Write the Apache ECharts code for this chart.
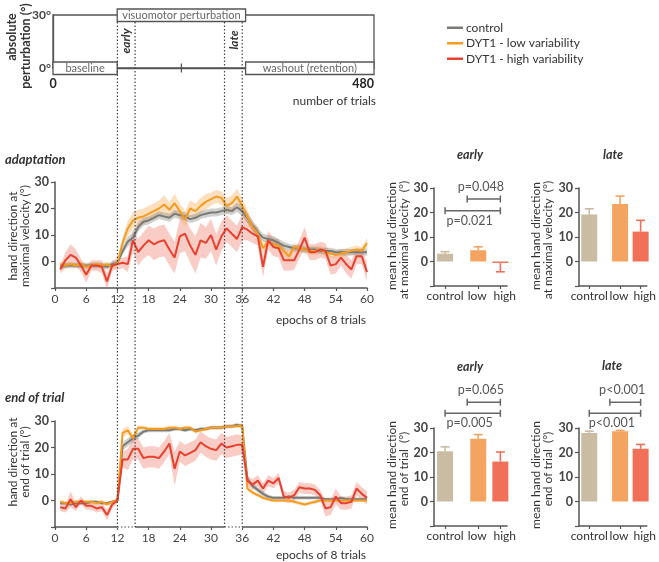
<!DOCTYPE html>
<html>
<head>
<meta charset="utf-8">
<script src="https://cdn.jsdelivr.net/npm/echarts@6/dist/echarts.min.js"></script>
<style>
  html, body { margin: 0; background: #fff; }
  #chart { width: 659px; height: 562px; }
</style>
</head>
<body>
<div id="chart"></div>
<script>
// epochs of 8 trials
const epochs = [1,2,3,4,5,6,7,8,9,10,11,12,13,14,15,16,17,18,19,20,21,22,23,24,25,26,27,28,29,30,
  31,32,33,34,35,36,37,38,39,40,41,42,43,44,45,46,47,48,49,50,51,52,53,54,55,56,57,58,59,60];

// hand direction at maximal velocity (mean, sem)
const ctrlV = [-2,-1.5,-1.5,-1.5,-1.5,-1.5,-1.5,-1.5,-1.5,-2,-1,-0.5,4,7.5,9,13,15,15.5,16.5,17.5,17,16.5,18,17.5,17,16,16.5,17.5,18,18.5,
  18.5,19,19.5,19,20.5,19,16.5,13.5,11,9,8.5,8,7,6,5.5,5,5,4.5,4.5,4.5,4,4,4,3.5,3.5,3.5,3.5,3.5,3.5,3.5];
const ctrlVse = [1,1,1,1,1,1,1,1,1,1,1,1,1.5,1.8,2,1.8,1.5,1.5,1.5,1.5,1.5,1.5,1.5,1.5,1.5,1.5,1.5,1.5,1.5,1.5,
  1.5,1.5,1.5,1.5,1.8,2,2,2,1.8,1.5,1.5,1.5,1.5,1.5,1.2,1.2,1.2,1.2,1.2,1.2,1.2,1.2,1.2,1.2,1.2,1.2,1.2,1.2,1.2,1.2];
const lowV = [-1,-1.5,-1,-1.5,-1,-2,-1.5,-1,-1.5,-1,-2,-0.5,7,12.5,15.5,16.5,17,18,19,20,21.5,19.5,22,19,16,20,19,21,22.5,23.5,
  24.5,24,21,22,24.5,21,17,13,10.5,5,7.5,6.5,6,4,2,5.5,5,4.5,4,4,4.5,3.5,3,2.5,3,3.5,4,4.5,4,7];
const lowVse = [1,1,1,1,1,1,1,1,1,1,1,1,2,3,3,3,3,3,3,3,3.5,3,3.5,3,3,3,3,3,3,2.5,
  2.5,2.5,3,3,3,3,2.5,2,2,2,1.5,1.5,1.5,1.5,1.5,1.5,1.5,1.5,1.5,1.5,1.5,1.5,1.5,1.5,1.5,1.5,1.5,1.5,1.5,2];
const highV = [-3,0.5,2.5,1.5,-1.5,-5,-1.5,-1.5,-2,-7.5,-1.5,-1,-0.5,-1,8,3.5,6,8,6.5,7.5,8,4.5,1.5,9.5,10.5,6,2.5,8,7,10,
  4.5,9.5,12.5,10.5,8.5,13,12,10.5,9.5,-2,8,5.5,5,0.5,0.5,0.5,4.5,9,3.5,3.5,4.5,4,-1.5,-1,1.5,-1,-3,2,2,-4];
const highVse = [1.5,3,4,3,2.5,3,2,2,2.5,3,2,2,2,3,4.5,5,5,5.5,6,6,6,6,6,6.5,6.5,6.5,7,6.5,6,6,
  6,5.5,5,5,5,5,4,3.5,3.5,4,3.5,3.5,3.5,4,4,3.5,3.5,4,3,3,3,3,3.5,3.5,3,3.5,3.5,3,3,3.5];

// hand direction at end of trial (mean, sem)
const ctrlE = [-1,-1,-1.5,-1,-1,-1,-0.5,-0.5,-1,-1,-0.5,0,20.5,22,23.5,24.5,26,26.5,26.5,26.5,26.5,26.5,27,27,26.5,27,26.5,27,27,27.5,
  27.5,27.5,28,28,28.5,28,8,5.5,4,2.5,1.5,1,1,1,1.5,1,1,1,1,1,1,0.5,0.5,0.5,1,0.5,0.5,0.5,0.5,0.5];
const ctrlEse = [0.5,0.5,0.5,0.5,0.5,0.5,0.5,0.5,0.5,0.5,0.5,0.5,1.5,1.5,1.5,1.2,0.8,0.7,0.7,0.7,0.7,0.7,0.7,0.7,0.7,0.7,0.7,0.7,0.7,0.7,
  0.7,0.7,0.7,0.7,0.7,0.7,1.2,1,1,1,0.7,0.6,0.6,0.6,0.6,0.6,0.6,0.6,0.6,0.6,0.6,0.6,0.6,0.6,0.6,0.6,0.6,0.6,0.6,0.6];
const lowE = [-0.5,-1,-1,-0.5,-0.5,-0.5,-0.5,-1,-0.5,-1.5,-0.5,0,25.5,26.5,23.5,27.5,27.5,27,27,27,27,27.5,27.5,27,27.5,27.5,26,26.5,27,27.5,
  27.5,27.5,28,28,28,28.5,4.5,3,2,1,0.5,0,0,0,0,-0.5,-1,-1.5,-1,-0.5,0,0,0,0,0,0,0,0,0,0];
const lowEse = [0.7,0.7,0.7,0.7,0.7,0.7,0.7,0.7,0.7,0.7,0.7,0.5,1.5,1.5,1.5,0.8,0.7,0.7,0.7,0.7,0.7,0.7,0.7,0.7,0.7,0.7,0.7,0.7,0.7,0.7,
  0.7,0.7,0.7,0.7,0.7,0.7,1,0.7,0.7,0.7,0.7,0.7,0.7,0.7,0.7,0.7,0.7,0.7,0.7,0.7,0.7,0.7,0.7,0.7,0.7,0.7,0.7,0.7,0.7,0.7];
const highE = [-2.5,-3,0.5,-2.5,0,-2,-2,-3,-2.5,-5.5,-1.5,0,15.5,15.5,19.5,19.5,16,16.5,16.5,16,18.5,21.5,12,18.5,17,18,19,22,20.5,19.5,
  19,21.5,20,20.5,21,21,7.5,6,7.5,4.5,7.5,6.5,8.5,1.5,1,2,5,4.5,4.5,4,2,-3,-2.5,1.5,-1,-1,-0.5,4.5,2.5,1];
const highEse = [1.5,1.5,3,1.5,1.5,1.5,1.5,1.5,1.5,2,1.5,1,3,4,4,4,4,4,4,4,4,4,6.5,4,4,4,4,4,4,4,
  4,4,4,4,4,3.5,2,2,2,2,2,2,2,2,2,2,2,2,2,2,2,3,3,3,2.5,2.5,2.5,2.5,2.5,2.5];

// bar charts
const barGroups = ['control', 'low', 'high'];
const barPos = [0, 1.5, 2.5];
const barLabelPos = [0, 1.45, 2.7];
const adaptEarly = [3.2, 4.6, -0.6];
const adaptEarlySe = [0.8, 1.4, 3.6];
const adaptLate = [19.2, 23.5, 12.2];
const adaptLateSe = [2.3, 3.2, 4.6];
const endEarly = [20.5, 25.6, 16.3];
const endEarlySe = [1.8, 1.7, 3.9];
const endLate = [28.0, 28.7, 21.5];
const endLateSe = [0.7, 0.3, 1.8];

// significance brackets: from, to, height, text
const adaptEarlyBr = [[1, 2.5, 25.5, 'p=0.048'], [0, 2.5, 20.7, 'p=0.021']];
const endEarlyBr = [[1, 2.5, 40.5, 'p=0.065'], [0, 2.5, 36, 'p=0.005']];
const endLateBr = [[1, 2.5, 40.5, 'p<0.001'], [0, 2.5, 36, 'p<0.001']];

// protocol: label, first trial, last trial, perturbation
const phases = [['baseline', 0, 96, 0], ['visuomotor perturbation', 96, 288, 30], ['washout (retention)', 288, 480, 0]];
const trialMarks = [192];
const windows = [[12, 15.4], [32.6, 36]]; // early / late, in epochs

const F = 'Lato, "Noto Sans", sans-serif';
const AX = '#555';
const lineColors = ['#7a7a76', '#f39c1f', '#e8402e'];
const bandColors = ['rgba(120,120,116,0.35)', 'rgba(248,176,96,0.4)', 'rgba(240,130,110,0.4)'];
const barColors = ['#c9bca3', '#f4a460', '#f07157'];
const names = ['control', 'DYT1 - low variability', 'DYT1 - high variability'];

const chart = echarts.init(document.getElementById('chart'));

function lineX(gi) {
  return {
    type: 'value', gridIndex: gi, min: 0, max: 60, interval: 6,
    axisLine: { onZero: false, lineStyle: { color: AX, width: 1.5 } },
    axisTick: { length: 3, lineStyle: { color: AX, width: 1.2 } },
    axisLabel: { margin: 5, fontSize: 12, fontFamily: F, color: '#444' },
    splitLine: { show: false }
  };
}
function barX(gi) {
  return {
    type: 'value', gridIndex: gi, min: -0.5, max: 2.8,
    axisLine: { onZero: false, lineStyle: { color: AX, width: 1.5 } },
    axisTick: { customValues: barPos, length: 3, lineStyle: { color: AX, width: 1.2 } },
    axisLabel: { customValues: barLabelPos, margin: 4, fontSize: 12, fontFamily: F, color: '#333',
      formatter: v => barGroups[barLabelPos.indexOf(v)] || '' },
    splitLine: { show: false }
  };
}
function valY(gi) {
  return {
    type: 'value', gridIndex: gi, min: -10, max: 30, interval: 10,
    axisLine: { show: true, onZero: false, lineStyle: { color: AX, width: 1.5 } },
    axisTick: { show: true, length: 4, lineStyle: { color: AX, width: 1.2 } },
    axisLabel: { margin: 6, fontSize: 12.5, fontWeight: 'bold', fontFamily: F, color: '#444',
      formatter: v => (v < 0 ? '' : String(v)) },
    splitLine: { show: false }
  };
}

function band(ai, mean, se, color) {
  return {
    type: 'custom', xAxisIndex: ai, yAxisIndex: ai, silent: true, clip: true,
    data: [[0, 0]],
    renderItem: (params, api) => {
      const up = epochs.map((e, i) => api.coord([e, mean[i] + se[i]]));
      const lo = epochs.map((e, i) => api.coord([e, mean[i] - se[i]])).reverse();
      return { type: 'polygon', shape: { points: up.concat(lo) }, style: { fill: color } };
    }
  };
}
function meanLine(ai, k, mean) {
  return {
    type: 'line', name: names[k], xAxisIndex: ai, yAxisIndex: ai, color: lineColors[k],
    data: epochs.map((e, i) => [e, mean[i]]), symbol: 'none', silent: true,
    lineStyle: { color: lineColors[k], width: 2 }
  };
}
function bars(ai, vals) {
  return {
    type: 'bar', xAxisIndex: ai, yAxisIndex: ai, barWidth: 16, silent: true,
    data: barPos.map((p, i) => ({ value: [p, vals[i]], itemStyle: { color: barColors[i] } }))
  };
}
function errs(ai, vals, se) {
  return {
    type: 'custom', xAxisIndex: ai, yAxisIndex: ai, clip: false, silent: true,
    data: barPos.map((p, i) => [p, vals[i], se[i]]),
    renderItem: (params, api) => {
      const x = api.value(0), v = api.value(1), s = api.value(2);
      const a = api.coord([x, v]);
      const b = api.coord([x, v >= 0 ? v + s : v - s]);
      const st = { stroke: barColors[params.dataIndex], lineWidth: 1.6 };
      return { type: 'group', children: [
        { type: 'line', shape: { x1: a[0], y1: a[1], x2: b[0], y2: b[1] }, style: st },
        { type: 'line', shape: { x1: b[0] - 4.5, y1: b[1], x2: b[0] + 4.5, y2: b[1] }, style: st }
      ] };
    }
  };
}
function brackets(ai, list) {
  return {
    type: 'custom', xAxisIndex: ai, yAxisIndex: ai, clip: false, silent: true,
    data: list.map(b => [b[0], b[2], b[1]]),
    renderItem: (params, api) => {
      const b = list[params.dataIndex];
      const p1 = api.coord([b[0], b[2]]), p2 = api.coord([b[1], b[2]]);
      const below = b[0] === 0;
      const st = { stroke: '#666', lineWidth: 1.5 };
      return { type: 'group', children: [
        { type: 'line', shape: { x1: p1[0], y1: p1[1], x2: p2[0], y2: p2[1] }, style: st },
        { type: 'line', shape: { x1: p1[0], y1: p1[1] - 3.5, x2: p1[0], y2: p1[1] + 3.5 }, style: st },
        { type: 'line', shape: { x1: p2[0], y1: p2[1] - 3.5, x2: p2[0], y2: p2[1] + 3.5 }, style: st },
        { type: 'text', x: (p1[0] + p2[0]) / 2 - 3, y: p1[1] + (below ? 10 : -12),
          style: { text: b[3], fill: '#555', font: '12.5px ' + F,
            align: 'center', verticalAlign: 'middle', textAlign: 'center', textVerticalAlign: 'middle' } }
      ] };
    }
  };
}

const series = [
  // protocol boxes
  {
    type: 'custom', xAxisIndex: 0, yAxisIndex: 0, clip: false, silent: true, z: 5,
    data: phases.map(p => [p[1], p[3], p[2]]),
    renderItem: (params, api) => {
      const p = phases[params.dataIndex];
      const a = api.coord([p[1], p[3]]), b = api.coord([p[2], p[3]]);
      return { type: 'group', children: [
        { type: 'rect', shape: { x: a[0], y: a[1] - 6, width: b[0] - a[0], height: 12.5 },
          style: { fill: '#fff', stroke: AX, lineWidth: 1.3 } },
        { type: 'text', x: (a[0] + b[0]) / 2, y: a[1] + 0.5,
          style: { text: p[0], fill: '#666', font: '11px ' + F,
            align: 'center', verticalAlign: 'middle', textAlign: 'center', textVerticalAlign: 'middle' } }
      ] };
    }
  },
  {
    type: 'custom', xAxisIndex: 0, yAxisIndex: 0, clip: false, silent: true, z: 5,
    data: trialMarks.map(t => [t, 0]),
    renderItem: (params, api) => {
      const a = api.coord([api.value(0), 0]);
      return { type: 'line', shape: { x1: a[0], y1: a[1] - 4.5, x2: a[0], y2: a[1] + 4.5 },
        style: { stroke: AX, lineWidth: 1.3 } };
    }
  },
  band(1, highV, highVse, bandColors[2]), band(1, lowV, lowVse, bandColors[1]), band(1, ctrlV, ctrlVse, bandColors[0]),
  meanLine(1, 0, ctrlV), meanLine(1, 1, lowV), meanLine(1, 2, highV),
  band(2, highE, highEse, bandColors[2]), band(2, lowE, lowEse, bandColors[1]), band(2, ctrlE, ctrlEse, bandColors[0]),
  meanLine(2, 0, ctrlE), meanLine(2, 1, lowE), meanLine(2, 2, highE),
  bars(3, adaptEarly), errs(3, adaptEarly, adaptEarlySe), brackets(3, adaptEarlyBr),
  bars(4, adaptLate), errs(4, adaptLate, adaptLateSe),
  bars(5, endEarly), errs(5, endEarly, endEarlySe), brackets(5, endEarlyBr),
  bars(6, endLate), errs(6, endLate, endLateSe), brackets(6, endLateBr)
];

function txt(x, y, text, font, opt) {
  return Object.assign({
    type: 'text', x, y, z: 100, silent: true,
    style: { text, font: font + ' ' + F, fill: '#333', align: 'center', verticalAlign: 'middle',
      textAlign: 'center', textVerticalAlign: 'middle' }
  }, opt || {});
}
function vtxt(x, y, text, font) {
  return txt(x, y, text, font, { rotation: Math.PI / 2 });
}
function rtxt(x, y, text, font) {
  const t = txt(x, y, text, font);
  t.style.align = 'right'; t.style.textAlign = 'right';
  return t;
}
function ltxt(x, y, text, font) {
  const t = txt(x, y, text, font);
  t.style.align = 'left'; t.style.textAlign = 'left';
  return t;
}

const labels = [
  vtxt(12, 37, 'absolute', 'bold 12.5px'),
  vtxt(26, 46, 'perturbation (°)', 'bold 12.5px'),
  rtxt(376, 101, 'number of trials', '12px'),
  vtxt(126, 41, 'early', 'italic bold 12px'),
  vtxt(234, 40, 'late', 'italic bold 12px'),
  ltxt(5, 160, 'adaptation', 'italic bold 13px'),
  ltxt(5, 398, 'end of trial', 'italic bold 13px'),
  vtxt(13, 236, 'hand direction at', '12px'),
  vtxt(25, 236, 'maximal velocity (°)', '12px'),
  vtxt(13, 462, 'hand direction at', '12px'),
  vtxt(25, 462, 'end of trial (°)', '12px'),
  rtxt(366, 320, 'epochs of 8 trials', '12px'),
  rtxt(366, 555, 'epochs of 8 trials', '12px'),
  txt(470, 155, 'early', 'italic bold 12.5px'),
  txt(613, 155, 'late', 'italic bold 12.5px'),
  txt(470, 367, 'early', 'italic bold 12.5px'),
  txt(612, 366, 'late', 'italic bold 12.5px'),
  vtxt(392, 236, 'mean hand direction', '12px'),
  vtxt(404.5, 240, 'at maximal velocity  (°)', '12px'),
  vtxt(536, 236, 'mean hand direction', '12px'),
  vtxt(548.5, 240, 'at maximal velocity  (°)', '12px'),
  vtxt(392, 475, 'mean hand direction', '12px'),
  vtxt(404.5, 469, 'end of trial  (°)', '12px'),
  vtxt(536, 475, 'mean hand direction', '12px'),
  vtxt(548.5, 469, 'end of trial  (°)', '12px')
];

chart.setOption({
  animation: false,
  legend: {
    data: names, orient: 'vertical', left: 447, top: 20, icon: 'rect',
    itemWidth: 16, itemHeight: 2.5, itemGap: 0, selectedMode: false, padding: 0,
    textStyle: { fontFamily: F, fontSize: 12, color: '#333', lineHeight: 15.5, padding: [0, 0, 0, -2] }
  },
  grid: [
    { left: 53, top: 15, width: 321, height: 53, show: true, borderColor: AX, borderWidth: 1.3 },
    { left: 55, top: 182, width: 312, height: 106 },
    { left: 55, top: 421, width: 312, height: 106 },
    { left: 434, top: 188, width: 73, height: 98 },
    { left: 579, top: 188, width: 73, height: 98 },
    { left: 434, top: 428, width: 73, height: 98 },
    { left: 579, top: 428, width: 73, height: 98 }
  ],
  xAxis: [
    { type: 'value', gridIndex: 0, min: 0, max: 480, interval: 480,
      axisLine: { onZero: false, lineStyle: { color: AX, width: 1.3 } }, axisTick: { show: false },
      axisLabel: { margin: 9, fontSize: 12.5, fontWeight: 'bold', fontFamily: F, color: '#222',
        alignMaxLabel: 'right' },
      splitLine: { show: false } },
    lineX(1), lineX(2), barX(3), barX(4), barX(5), barX(6)
  ],
  yAxis: [
    { type: 'value', gridIndex: 0, min: 0, max: 30, interval: 30,
      axisLine: { show: true, onZero: false, lineStyle: { color: AX, width: 1.3 } }, axisTick: { show: false },
      axisLabel: { margin: 2, fontSize: 12, fontWeight: 'bold', fontFamily: F, color: '#444',
        formatter: v => v + '°' },
      splitLine: { show: false } },
    valY(1), valY(2), valY(3), valY(4), valY(5), valY(6)
  ],
  series,
  graphic: labels
});

// dotted lines marking the early and late windows, through all panels
const yTop = chart.convertToPixel({ yAxisIndex: 0 }, 30) + 7;
const yBot = chart.convertToPixel({ yAxisIndex: 2 }, -10);
const dots = [];
const dash = { stroke: '#444', lineWidth: 1.2, lineDash: [1.5, 2] };
windows.forEach(w => {
  const xa = chart.convertToPixel({ xAxisIndex: 1 }, w[0]);
  const xb = chart.convertToPixel({ xAxisIndex: 1 }, w[1]);
  dots.push({ type: 'line', z: 99, silent: true, shape: { x1: xa, y1: yBot, x2: xb, y2: yBot }, style: { stroke: '#fff', lineWidth: 2.5 } });
  dots.push({ type: 'line', z: 100, silent: true, shape: { x1: xa, y1: yBot, x2: xb, y2: yBot }, style: dash });
  [xa, xb].forEach(x => dots.push({ type: 'line', z: 100, silent: true,
    shape: { x1: x, y1: yTop, x2: x, y2: yBot }, style: dash }));
});
chart.setOption({ graphic: labels.concat(dots) });
</script>
</body>
</html>
